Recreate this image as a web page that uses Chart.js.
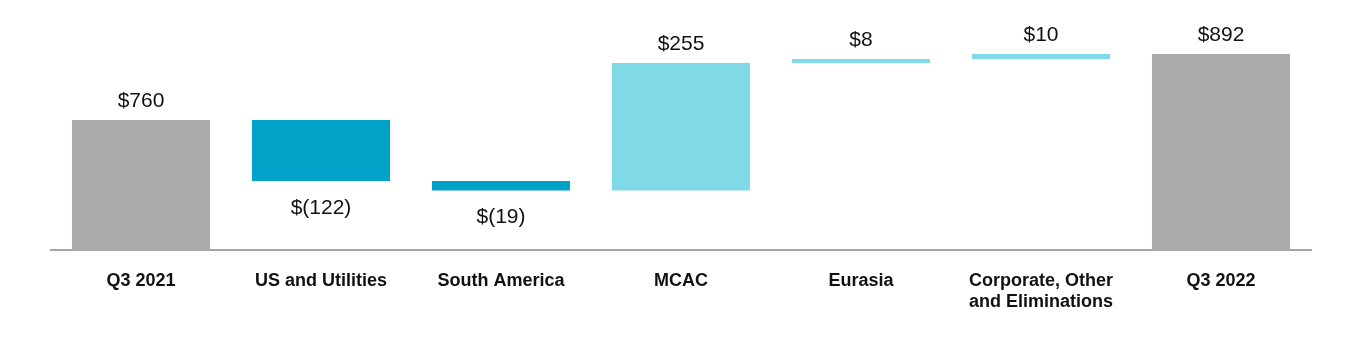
<!DOCTYPE html>
<html>
<head>
<meta charset="utf-8">
<script src="https://cdn.jsdelivr.net/npm/chart.js@4"></script>
<style>
html,body{margin:0;padding:0;background:#fff;}
#wrap{width:1360px;height:350px;position:relative;}
</style>
</head>
<body>
<div id="wrap"><canvas id="c" width="1360" height="350"></canvas></div>
<script>
const categories = ["Q3 2021", "US and Utilities", "South America", "MCAC", "Eurasia", ["Corporate, Other", "and Eliminations"], "Q3 2022"];
const changes = [760, -122, -19, 255, 8, 10, 892];
const kinds = ["total", "change", "change", "change", "change", "change", "total"];
const valueLabels = ["$760", "$(122)", "$(19)", "$255", "$8", "$10", "$892"];
const axisMin = 500;
const axisMax = 1000;

const colTotal = "#ababab";
const colNeg = "#00a3c7";
const colPos = "#7fd9e6";

let running = 0;
const ranges = changes.map((v, i) => {
  if (kinds[i] === "total") { running = v; return [axisMin, v]; }
  const start = running; running += v; return [start, running];
});
const colors = changes.map((v, i) => kinds[i] === "total" ? colTotal : (v < 0 ? colNeg : colPos));

const labelPlugin = {
  id: "valueLabels",
  afterDatasetsDraw(chart) {
    const ctx = chart.ctx;
    const meta = chart.getDatasetMeta(0);
    ctx.save();
    ctx.font = "21px 'Liberation Sans', Arial, sans-serif";
    ctx.fillStyle = "#111";
    ctx.textAlign = "center";
    ctx.textBaseline = "middle";
    meta.data.forEach((bar, i) => {
      const top = Math.min(bar.y, bar.base);
      const bottom = Math.max(bar.y, bar.base);
      if (changes[i] < 0) ctx.fillText(valueLabels[i], bar.x, bottom + 27);
      else ctx.fillText(valueLabels[i], bar.x, top - 19);
    });
    ctx.restore();
  }
};

new Chart(document.getElementById("c"), {
  type: "bar",
  data: {
    labels: categories,
    datasets: [{
      data: ranges,
      backgroundColor: colors,
      borderWidth: 0,
      barPercentage: 0.767,
      categoryPercentage: 1.0
    }]
  },
  options: {
    responsive: false,
    animation: false,
    events: [],
    layout: { padding: { left: 51, right: 49, top: 0, bottom: 0 } },
    plugins: { legend: { display: false }, tooltip: { enabled: false } },
    scales: {
      x: {
        grid: { display: false, drawTicks: false },
        border: { display: true, color: "#a6a6a6", width: 2 },
        ticks: {
          color: "#111",
          padding: 21,
          maxRotation: 0,
          autoSkip: false,
          font: { family: "'Liberation Sans', Arial, sans-serif", size: 18, weight: "bold", lineHeight: 1.15 }
        },
        afterFit: s => { s.height = 100; }
      },
      y: {
        display: false,
        min: axisMin,
        max: axisMax
      }
    }
  },
  plugins: [labelPlugin]
});
</script>
</body>
</html>
